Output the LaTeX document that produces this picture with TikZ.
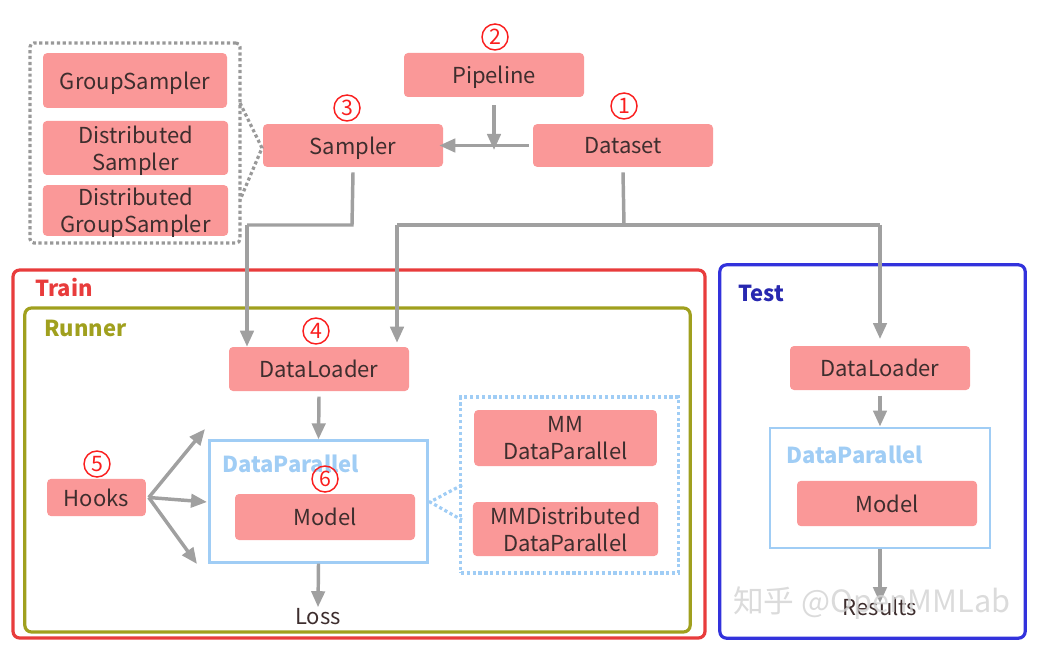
\documentclass[tikz,border=0pt]{standalone}
\usepackage{fontspec}
\setmainfont{Noto Sans CJK SC}
\usetikzlibrary{arrows.meta}
\definecolor{boxpink}{RGB}{250,152,152}
\definecolor{txtdark}{RGB}{62,46,46}
\definecolor{arrgray}{RGB}{160,160,160}
\definecolor{trainred}{RGB}{232,60,60}
\definecolor{runnerolive}{RGB}{160,160,30}
\definecolor{testblue}{RGB}{50,50,220}
\definecolor{dpblue}{RGB}{160,205,245}
\definecolor{numred}{RGB}{250,30,30}
\tikzset{
  pbox/.style={fill=boxpink, rounded corners=3pt, text=txtdark, align=center, inner sep=0pt,
    text depth=0pt, font=\fontsize{16.5}{20.5}\selectfont},
  frame/.style={rounded corners=5pt, line width=2.4pt},
  dpframe/.style={draw=dpblue, line width=2.2pt},
  arr/.style={draw=arrgray, line width=2.6pt, -{Triangle[length=12pt,width=10pt]}},
  plainline/.style={draw=arrgray, line width=2.6pt},
  circnum/.style={circle, draw=numred, line width=1.1pt, text=numred, minimum size=19.5pt, inner sep=0pt,
    font=\fontsize{16}{16}\selectfont},
  framelabel/.style={font=\bfseries\fontsize{16.5}{18}\selectfont, anchor=west, inner sep=0pt},
  plaintxt/.style={text=txtdark, font=\fontsize{16.5}{18}\selectfont, inner sep=0pt}
}
\begin{document}
\begin{tikzpicture}[x=0.75pt,y=-0.75pt]
\useasboundingbox (0,0) rectangle (1041,659);
% frames
\node[frame, draw=trainred, minimum width=519pt, minimum height=276pt] (train) at (359,454) {};
\node[frame, draw=runnerolive, minimum width=499pt, minimum height=243pt] (runner) at (357.5,470) {};
\node[frame, draw=testblue, minimum width=229pt, minimum height=280pt] (test) at (872.5,451.5) {};
\node[framelabel, text=trainred] (trainlbl) at (35,288) {Train};
\node[framelabel, text=runnerolive] (runnerlbl) at (44,328) {Runner};
\node[framelabel, text=testblue!80!black] (testlbl) at (738,293) {Test};

% sampler group
\node[draw=gray!80, dotted, line width=2.4pt, rounded corners=3pt, minimum width=157.5pt, minimum height=150pt] (sgroup) at (135,143) {};
\node[pbox, minimum width=138pt, minimum height=41pt] (gs) at (135,80.5) {GroupSampler};
\node[pbox, minimum width=139pt, minimum height=40.5pt] (ds) at (135.5,148) {Distributed\\Sampler};
\node[pbox, minimum width=139pt, minimum height=38pt] (dgs) at (135.5,210.5) {Distributed\\GroupSampler};

% top nodes
\node[pbox, minimum width=135pt, minimum height=33pt] (pipeline) at (494,75) {Pipeline};
\node[pbox, minimum width=135pt, minimum height=32pt] (sampler) at (353,145.5) {Sampler};
\node[pbox, minimum width=135pt, minimum height=32pt] (dataset) at (623,145.5) {Dataset};
\node[circnum] (n2) at (495,37) {2};
\node[circnum] (n3) at (347,108) {3};
\node[circnum] (n1) at (624,106) {1};

% dotted connection from sampler group to sampler
\coordinate (sg1) at (240,103);
\coordinate (sg2) at (240,200);
\coordinate (sgm) at (262,148);
\draw[gray!80, dotted, line width=2.4pt] (sg1) -- (sgm) -- (sg2);

% Train
\node[pbox, minimum width=135pt, minimum height=33pt] (dl) at (319,369) {DataLoader};
\node[circnum] (n4) at (316,331) {4};
\node[dpframe, minimum width=164pt, minimum height=91pt] (dp) at (318.5,501.5) {};
\node[framelabel, text=dpblue] (dplbl) at (222,464) {DataParallel};
\node[pbox, minimum width=135pt, minimum height=34.5pt] (model) at (325,517) {Model};
\node[circnum] (n6) at (325,479) {6};
\node[pbox, minimum width=74pt, minimum height=28pt] (hooks) at (96.5,497.5) {Hooks};
\node[circnum] (n5) at (97,464) {5};
\node[plaintxt] (loss) at (318,617) {Loss};
\node[draw=dpblue, dotted, line width=2.4pt, minimum width=163pt, minimum height=132pt] (mmframe) at (569.5,485) {};
\node[pbox, minimum width=137pt, minimum height=42pt] (mmdp) at (565.5,438) {MM\\DataParallel};
\node[pbox, minimum width=139pt, minimum height=40.5pt] (mmddp) at (565.5,529) {MMDistributed\\DataParallel};
\coordinate (dpr) at (430,502);
\draw[dpblue, dotted, line width=2.4pt] (462,485) -- (dpr) -- (462,520);

% Test
\node[pbox, minimum width=135pt, minimum height=33pt] (tdl) at (880,368) {DataLoader};
\node[dpframe, minimum width=165pt, minimum height=90pt] (tdp) at (880,488) {};
\node[framelabel, text=dpblue] (tdplbl) at (786,455) {DataParallel};
\node[pbox, minimum width=135pt, minimum height=34pt] (tmodel) at (887,503.5) {Model};
\node[plaintxt] (results) at (880,607) {Results};

% connectors
\coordinate (pj) at (494,146);
\draw[arr] ([yshift=-6pt]pipeline.south) -- ([yshift=-3pt]pj);
\draw[arr] ([xshift=-3pt]dataset.west) -- ([xshift=-3pt]sampler.east);

\coordinate (sj) at (352,225);
\coordinate (sdl) at (247,225);
\coordinate (dsj) at (624,225);
\coordinate (ddl) at (397,225);
\coordinate (dtest) at (880,225);
\draw[plainline] ([yshift=-4pt]sampler.south) -- (sj) -- (sdl);
\draw[arr] (sdl) -- (sdl |- dl.north);
\draw[plainline] ([yshift=-4pt]dataset.south) -- (dsj);
\draw[plainline] (dtest) -- (ddl);
\draw[arr] (ddl) -- ([yshift=3pt]ddl |- dl.north);
\draw[arr] (dtest) -- ([yshift=5pt]tdl.north);

\draw[arr] ([yshift=-4pt]dl.south) -- (dp.north);
\draw[arr] (dp.south) -- ([yshift=1pt]loss.north);
\coordinate (h1) at (205,429);
\coordinate (h2) at (207,502);
\coordinate (h3) at (197,564);
\draw[arr] ([xshift=2pt]hooks.east) -- (h1);
\draw[arr] ([xshift=2pt]hooks.east) -- (h2);
\draw[arr] ([xshift=2pt]hooks.east) -- (h3);

\draw[arr] ([yshift=-4pt]tdl.south) -- (tdp.north);
\draw[arr] (tdp.south) -- ([yshift=-4pt]results.north);

% watermark
\node[text=gray!35, opacity=0.8, font=\fontsize{23}{26}\selectfont, anchor=west, inner sep=0pt] (wm) at (733,603) {知乎 @OpenMMLab};
\end{tikzpicture}
\end{document}
